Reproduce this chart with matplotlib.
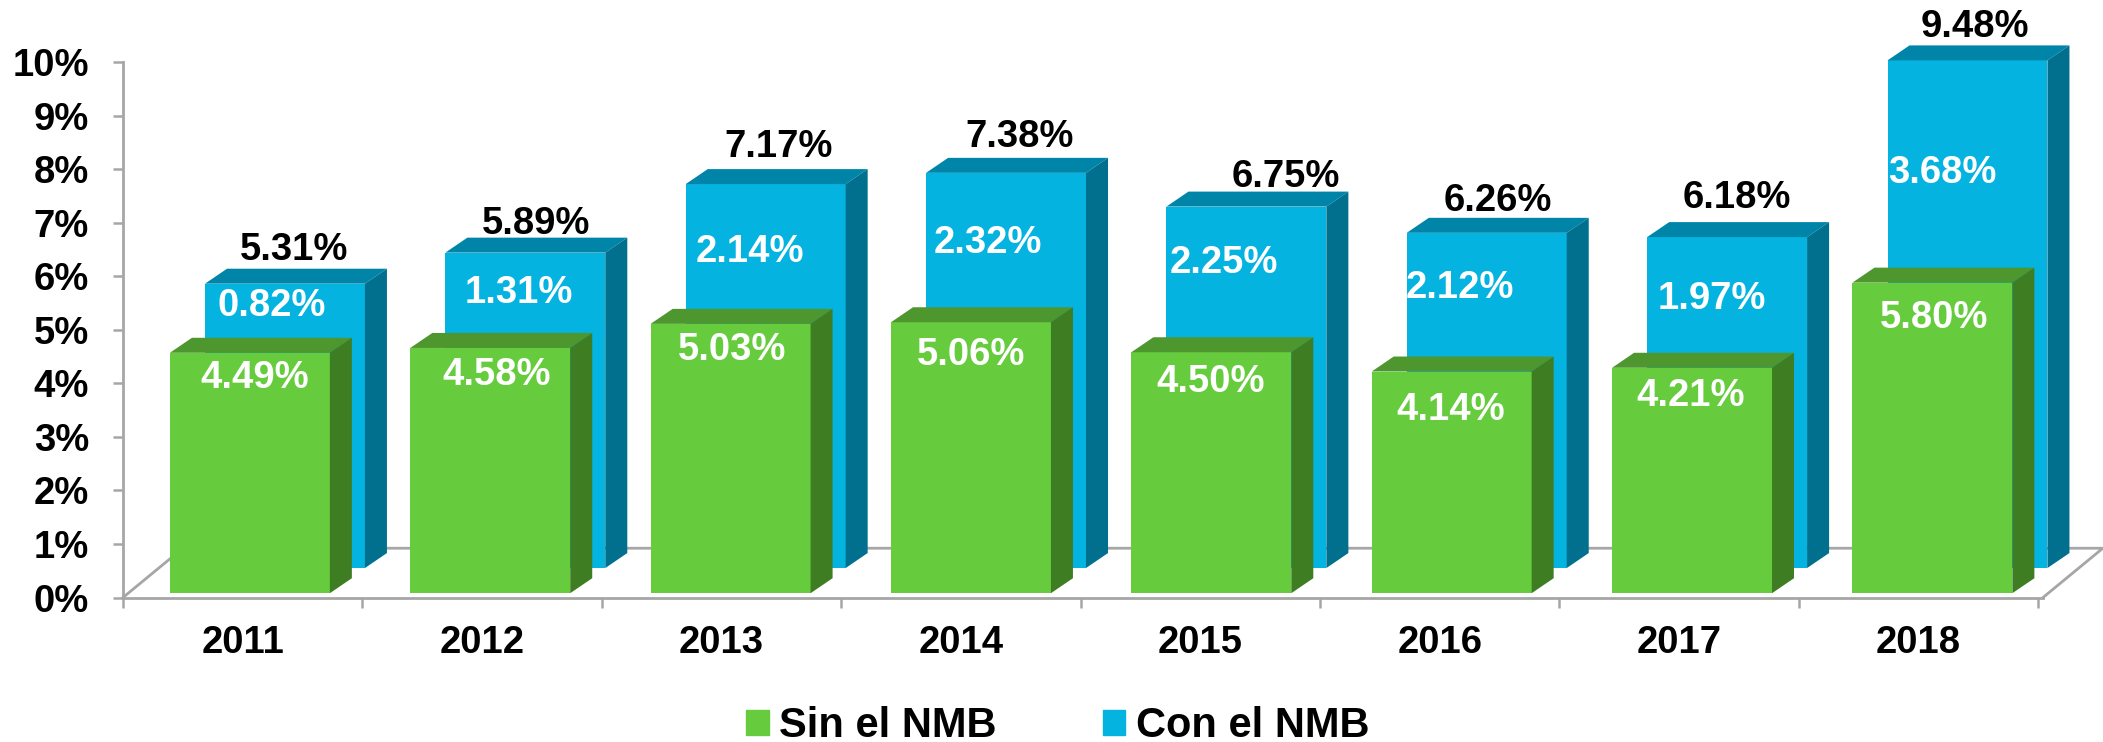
"""Stacked pseudo-3D bars: Sin el NMB / Con el NMB, 2011-2018."""
import matplotlib

matplotlib.use("Agg")
import matplotlib.pyplot as plt
from matplotlib.patches import Patch
from matplotlib.ticker import PercentFormatter

plt.rcParams["font.family"] = ["Liberation Sans", "DejaVu Sans"]
plt.rcParams["font.weight"] = "bold"

YEARS = ["2011", "2012", "2013", "2014", "2015", "2016", "2017", "2018"]
SIN_NMB = [4.49, 4.58, 5.03, 5.06, 4.50, 4.14, 4.21, 5.80]
EXTRA_NMB = [0.82, 1.31, 2.14, 2.32, 2.25, 2.12, 1.97, 3.68]
CON_NMB = [5.31, 5.89, 7.17, 7.38, 6.75, 6.26, 6.18, 9.48]

# bar geometry, in data units
STEP = 1.004
WIDTH = 0.668
GREEN_X, GREEN_BASE = 0.196, 0.08
BLUE_X, BLUE_BASE = 0.3425, 0.55
DEPTH_X, DEPTH_Y = 0.092, 0.28

GREEN = ("#66CC3E", "#4E962E", "#3F7D22")  # front, top, side
BLUE = ("#05B3E1", "#0085A8", "#00708E")
AXIS = "#A6A6A6"
TEXT_SIZE = 27.5

# hand-placed label offsets in pixels from the top centre of each front face
TOTAL_DX = [9, 11, 13, 14, 39, 11, 10, 7]
TOTAL_DY = [34, 29, 37, 36, 30, 32, 39, 33]
BLUE_DX = [-13, -7, -16, -18, -23, -27, -15, -25]
BLUE_DY = [-22, -40, -68, -70, -56, -55, -62, -113]
GREEN_DX = [5, 6, 1, 0, -1, -1, -1, 2]
GREEN_DY = [-25, -27, -26, -33, -30, -38, -28, -35]


def box(ax, x, base, height, colors):
    front, top, side = colors
    y = base + height
    ax.fill([x, x + WIDTH, x + WIDTH, x], [base, base, y, y], color=front, lw=0, zorder=3,
            clip_on=False)
    ax.fill([x, x + DEPTH_X, x + WIDTH + DEPTH_X, x + WIDTH], [y, y + DEPTH_Y, y + DEPTH_Y, y],
            color=top, lw=0, zorder=3, clip_on=False)
    ax.fill([x + WIDTH, x + WIDTH + DEPTH_X, x + WIDTH + DEPTH_X, x + WIDTH],
            [base, base + DEPTH_Y, y + DEPTH_Y, y], color=side, lw=0, zorder=3, clip_on=False)


def label(ax, text, x, y, dx, dy, color):
    ax.annotate(text, (x, y), xytext=(dx, dy), textcoords="offset pixels", ha="center", va="center",
                fontsize=TEXT_SIZE, color=color, zorder=5, annotation_clip=False)


fig = plt.figure(figsize=(21.03, 7.42), dpi=100)
ax = fig.add_axes([123 / 2103, (742 - 597.5) / 742, 1920 / 2103, 535.5 / 742])
ax.set_xlim(0, 8.02)
ax.set_ylim(0, 10)

# floor of the 3D box
ax.plot([0, 0.25, 8.27, 8.02], [0, 0.92, 0.92, 0], color=AXIS, lw=2, clip_on=False, zorder=1)

for i, year in enumerate(YEARS):
    bx = BLUE_X + STEP * i
    gx = GREEN_X + STEP * i
    box(ax, bx, BLUE_BASE, CON_NMB[i], BLUE)
    box(ax, gx, GREEN_BASE, SIN_NMB[i], GREEN)
    blue_top = BLUE_BASE + CON_NMB[i]
    green_top = GREEN_BASE + SIN_NMB[i]
    label(ax, f"{CON_NMB[i]:.2f}%", bx + WIDTH / 2, blue_top, TOTAL_DX[i], TOTAL_DY[i], "black")
    label(ax, f"{EXTRA_NMB[i]:.2f}%", bx + WIDTH / 2, blue_top, BLUE_DX[i], BLUE_DY[i], "white")
    label(ax, f"{SIN_NMB[i]:.2f}%", gx + WIDTH / 2, green_top, GREEN_DX[i], GREEN_DY[i], "white")

ax.set_yticks(range(11))
ax.yaxis.set_major_formatter(PercentFormatter(decimals=0))
ax.set_xticks(range(9))
ax.set_xticklabels([])
ax.set_xticks([i + 0.5 for i in range(8)], YEARS, minor=True)
ax.tick_params(axis="both", which="major", color=AXIS, width=1.8, length=7.5, labelsize=TEXT_SIZE)
ax.tick_params(axis="x", which="minor", length=0, labelsize=TEXT_SIZE, pad=20)
ax.tick_params(axis="y", pad=17)
for side in ("top", "right"):
    ax.spines[side].set_visible(False)
for side in ("left", "bottom"):
    ax.spines[side].set_color(AXIS)
    ax.spines[side].set_linewidth(2)

handles = [Patch(color=GREEN[0], label="Sin el NMB"), Patch(color=BLUE[0], label="Con el NMB")]
fig.legend(handles=handles, loc="center", bbox_to_anchor=(1058 / 2103, 1 - 726 / 742), ncol=2,
           frameon=False, fontsize=30, handlelength=0.53, handleheight=0.53, handletextpad=0.26,
           columnspacing=2.55, borderpad=0)

fig.savefig("out.png", dpi=100)
